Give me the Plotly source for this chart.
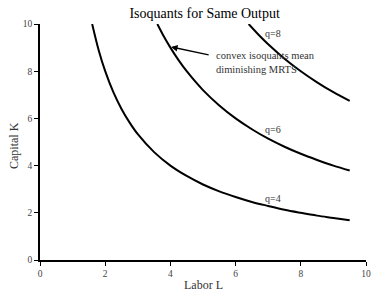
import plotly.graph_objects as go

# Isoquant q=4
L_q4 = [1.6, 1.8, 2.0, 2.25, 2.5, 2.75, 3.0, 3.5, 4.0, 4.5, 5.0, 5.5, 6.0, 6.5, 7.0, 7.5, 8.0, 8.5, 9.0, 9.5]
K_q4 = [10.0, 8.89, 8.0, 7.11, 6.4, 5.82, 5.33, 4.57, 4.0, 3.56, 3.2, 2.91, 2.67, 2.46, 2.29, 2.13, 2.0, 1.88, 1.78, 1.68]
# Isoquant q=6
L_q6 = [3.6, 3.8, 4.0, 4.25, 4.5, 5.0, 5.5, 6.0, 6.5, 7.0, 7.5, 8.0, 8.5, 9.0, 9.5]
K_q6 = [10.0, 9.47, 9.0, 8.47, 8.0, 7.2, 6.55, 6.0, 5.54, 5.14, 4.8, 4.5, 4.24, 4.0, 3.79]
# Isoquant q=8
L_q8 = [6.4, 6.75, 7.0, 7.5, 8.0, 8.5, 9.0, 9.5]
K_q8 = [10.0, 9.48, 9.14, 8.53, 8.0, 7.53, 7.11, 6.74]

curve_labels = ["q=4", "q=6", "q=8"]
label_pos_L = [7.15, 7.15, 7.15]
label_pos_K = [2.6, 5.55, 9.6]
ticks = [0, 2, 4, 6, 8, 10]

FONT = "Liberation Serif"

def f(size, color="#333"):
    return dict(family=FONT, size=size, color=color)

fig = go.Figure()
for Ls, Ks in [(L_q4, K_q4), (L_q6, K_q6), (L_q8, K_q8)]:
    fig.add_trace(go.Scatter(x=Ls, y=Ks, mode="lines",
                             line=dict(color="black", width=2, shape="spline"),
                             showlegend=False, hoverinfo="skip"))

for t, lx, ly in zip(curve_labels, label_pos_L, label_pos_K):
    fig.add_annotation(x=lx, y=ly, text=t, showarrow=False, font=f(10))

# arrow
fig.add_annotation(x=4.02, y=9.03, ax=5.22, ay=8.68, axref="x", ayref="y",
                   text="", showarrow=True, arrowhead=2, arrowsize=1,
                   arrowwidth=1.3, arrowcolor="black")
fig.add_annotation(x=5.35, y=8.35, text="convex isoquants mean<br>diminishing MRTS",
                   showarrow=False, xanchor="left", align="left", font=f(10.5))

# axis titles
fig.add_annotation(x=0.5, y=-0.106, xref="paper", yref="paper", text="Labor L",
                   showarrow=False, xanchor="center", yanchor="middle", font=f(12))
fig.add_annotation(x=-0.08, y=0.487, xref="paper", yref="paper", text="Capital K",
                   showarrow=False, textangle=-90, xanchor="center", yanchor="middle",
                   font=f(12))

fig.update_layout(
    width=379, height=300,
    margin=dict(l=40, r=13, t=24, b=40, autoexpand=False),
    plot_bgcolor="white", paper_bgcolor="white",
    font=f(10),
    title=dict(text="Isoquants for Same Output", x=0.54, xanchor="center",
               y=0.955, yanchor="middle", font=f(14, "black")),
    xaxis=dict(range=[0, 10], tickvals=ticks, showgrid=False, zeroline=False,
               showline=True, linecolor="black", linewidth=1.5, ticks="outside",
               ticklen=4, tickcolor="black", tickfont=f(9.5, "#444"),
               automargin=False),
    yaxis=dict(range=[0, 10], tickvals=ticks, showgrid=False, zeroline=False,
               showline=True, linecolor="black", linewidth=1.5, ticks="outside",
               ticklen=4, tickcolor="black", tickfont=f(9.5, "#444"),
               automargin=False),
)

fig.write_html("out.html")
